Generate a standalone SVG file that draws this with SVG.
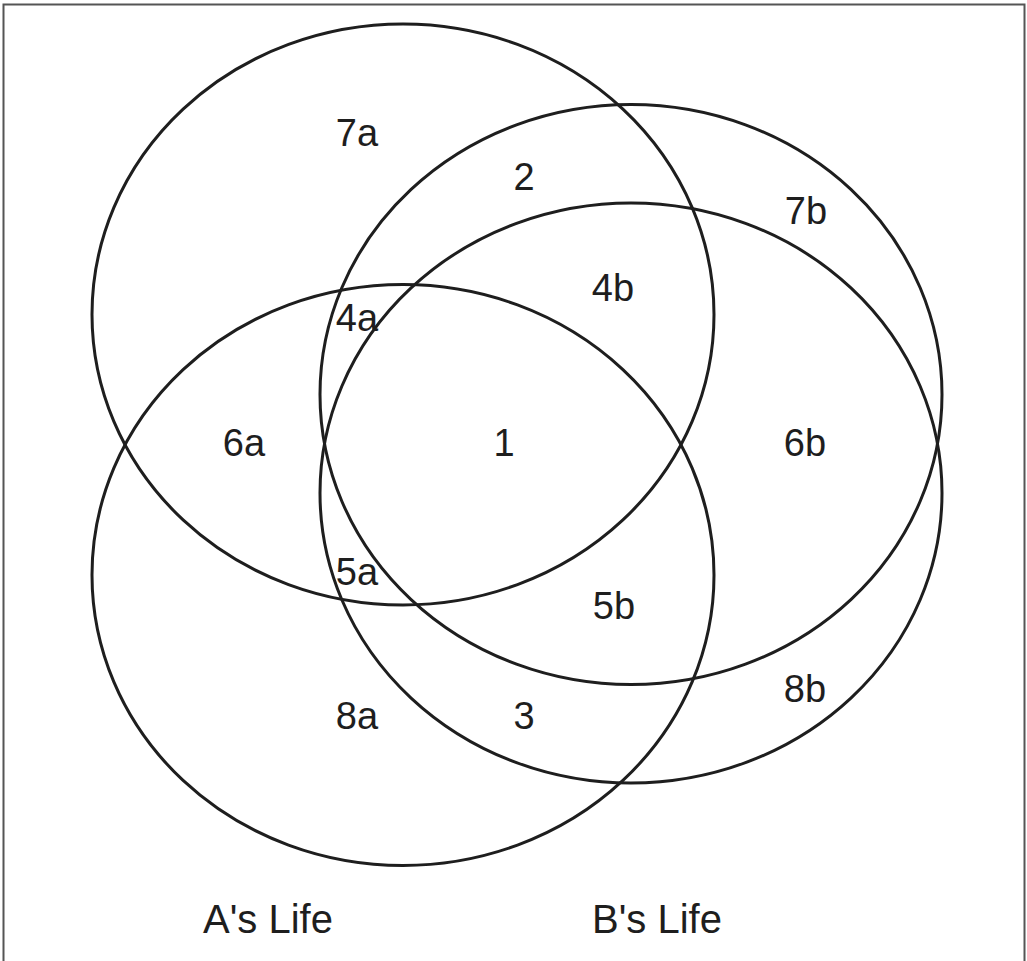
<svg xmlns="http://www.w3.org/2000/svg" width="1027" height="961" viewBox="0 0 1027 961">
<style>
.e{fill:none;stroke:#1e1e1e;stroke-width:3}
.t{font-family:"Liberation Sans",Arial,sans-serif;font-size:38px;fill:#1e1e1e;text-anchor:middle}
.l{font-family:"Liberation Sans",Arial,sans-serif;font-size:40px;fill:#1e1e1e}
</style>
<rect x="0" y="0" width="1027" height="961" fill="#fff"/>
<rect x="3.5" y="4.5" width="1021" height="970" fill="none" stroke="#555" stroke-width="2"/>
<g id="connectors"></g>
<g id="ellipseA1"><ellipse class="e" cx="403" cy="314.5" rx="311" ry="290.5"/></g>
<g id="ellipseA2"><ellipse class="e" cx="403" cy="575" rx="311" ry="290.5"/></g>
<g id="ellipseB1"><ellipse class="e" cx="631" cy="394.5" rx="311" ry="290"/></g>
<g id="ellipseB2"><ellipse class="e" cx="631" cy="493" rx="311" ry="290"/></g>
<g id="labels">
<text class="t" x="357" y="146">7a</text>
<text class="t" x="524" y="190">2</text>
<text class="t" x="806" y="224">7b</text>
<text class="t" x="613" y="301">4b</text>
<text class="t" x="357" y="331">4a</text>
<text class="t" x="244" y="456">6a</text>
<text class="t" x="504" y="456">1</text>
<text class="t" x="805" y="456">6b</text>
<text class="t" x="357" y="585">5a</text>
<text class="t" x="614" y="619">5b</text>
<text class="t" x="357" y="729">8a</text>
<text class="t" x="524" y="729">3</text>
<text class="t" x="805" y="702">8b</text>
</g>
<g id="titleA"><text class="l" x="203" y="933">A's Life</text></g>
<g id="titleB"><text class="l" x="592" y="933">B's Life</text></g>
</svg>
